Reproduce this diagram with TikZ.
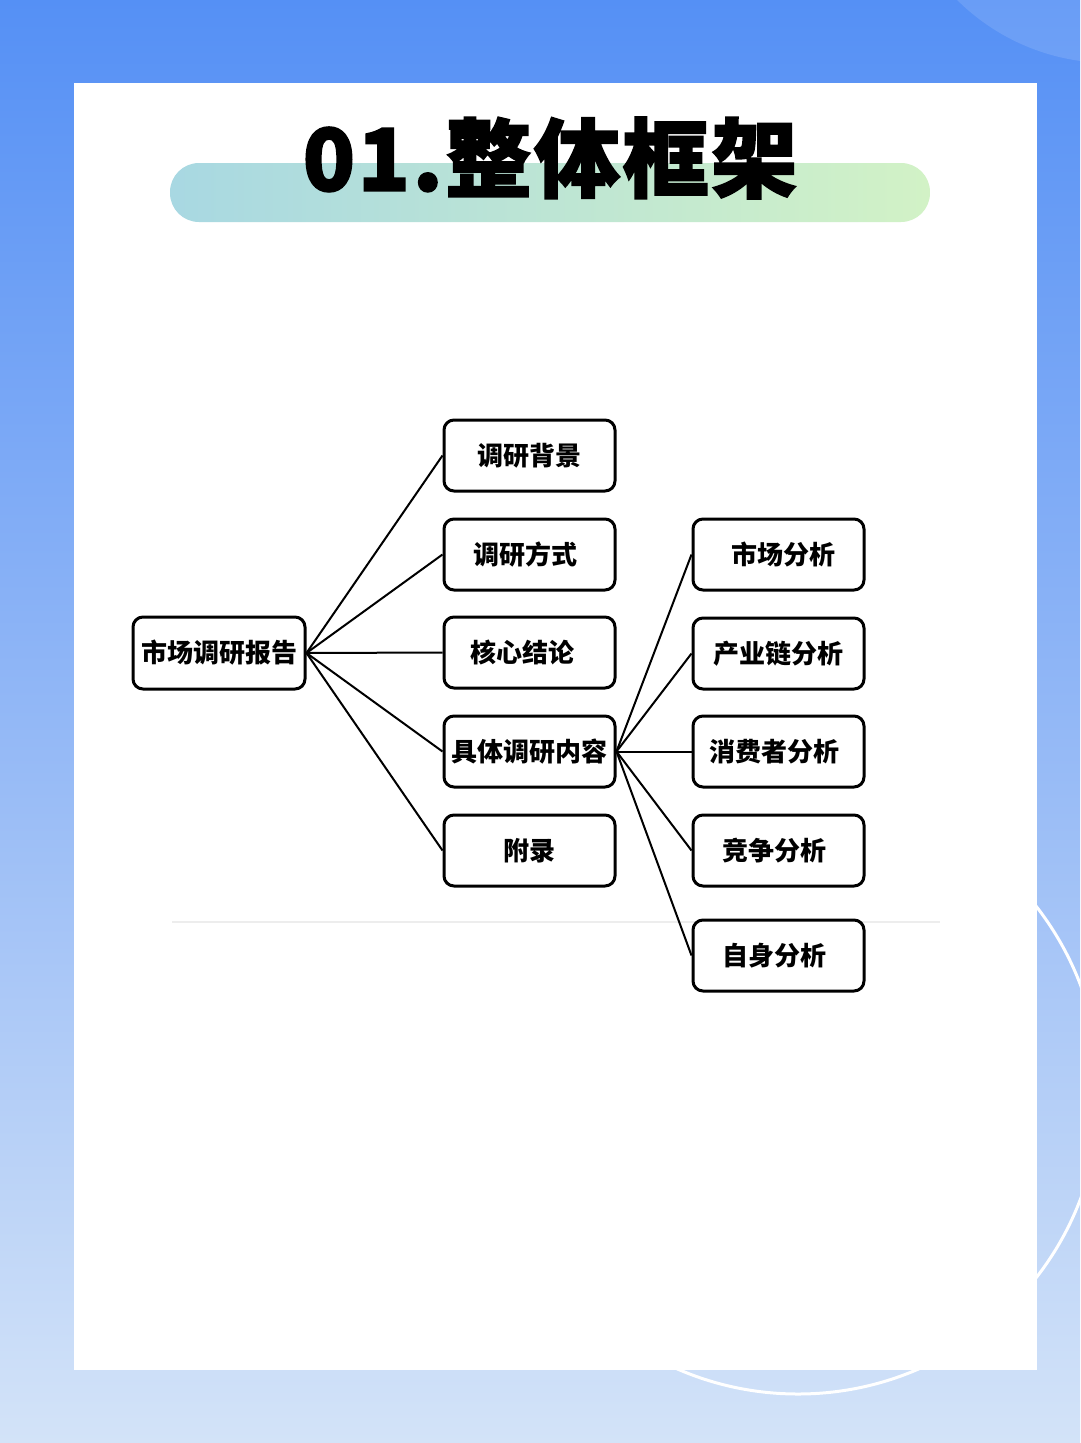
\documentclass[tikz,border=0pt]{standalone}
\usepackage{fontspec}
\newfontfamily\cjk{Noto Sans CJK SC}
\newfontfamily\titlecjk{Noto Sans CJK SC}[BoldFeatures={FakeBold=2}, LetterSpace=3]
\definecolor{bgtop}{HTML}{5590F5}
\definecolor{bgmid}{HTML}{93B8F6}
\definecolor{bgbot}{HTML}{D3E3F8}
\definecolor{pillL}{HTML}{A8D8E2}
\definecolor{pillR}{HTML}{D2F2C6}
\definecolor{sepgray}{HTML}{EDEDED}
\tikzset{
  box/.style={draw=black, line width=3pt, rounded corners=10pt, fill=white,
    minimum width=171pt, minimum height=71pt, inner sep=0pt,
    font=\cjk\bfseries\fontsize{26}{30}\selectfont},
  rootbox/.style={box, minimum width=172pt, minimum height=72pt},
  link/.style={draw=black, line width=2pt}
}
\begin{document}
\begin{tikzpicture}[x=1pt,y=-1pt]
\useasboundingbox (0,0) rectangle (1080,1443);
% background
\shade[top color=bgtop, bottom color=bgbot, middle color=bgmid] (0,0) rectangle (1080,1443);
\begin{scope}
\clip (0,0) rectangle (1080,1443);
\fill[white, opacity=0.12] (1110,-154) circle[radius=217];
\draw[white, line width=3pt] (798,1092) circle[radius=302];
\end{scope}
% card
\fill[white] (74,83) rectangle (1037,1370);
% title pill
\shade[left color=pillL, right color=pillR, rounded corners=29pt] (170,163) rectangle (930,222);
\node[font=\titlecjk\bfseries\fontsize{86}{96}\selectfont, inner sep=0pt] (title) at (550,158) {01.整体框架};
% separator
\draw[sepgray, line width=2pt] (172,922) -- (940,922);
% nodes
\node[rootbox] (root) at (219,653) {\raisebox{-2pt}{市场调研报告}};
\node[box] (a1) at (529.5,455.5) {\raisebox{-2pt}{调研背景}};
\node[box] (a2) at (529.5,554.5) {\hspace*{-8pt}\raisebox{-2pt}{调研方式}};
\node[box] (a3) at (529.5,652.5) {\hspace*{-14pt}\raisebox{-2pt}{核心结论}};
\node[box] (a4) at (529.5,751.5) {\raisebox{-2pt}{具体调研内容}};
\node[box] (a5) at (529.5,850.5) {\raisebox{-2pt}{附录}};
\node[box] (b1) at (778.5,554.5) {\hspace*{10pt}\raisebox{-2pt}{市场分析}};
\node[box] (b2) at (778.5,653.5) {\raisebox{-3pt}{产业链分析}};
\node[box] (b3) at (778.5,751.5) {\hspace*{-8pt}\raisebox{-2pt}{消费者分析}};
\node[box] (b4) at (778.5,850.5) {\hspace*{-8pt}\raisebox{-4pt}{竞争分析}};
\node[box] (b5) at (778.5,955.5) {\hspace*{-8pt}\raisebox{-2pt}{自身分析}};
% connectors
\foreach \t in {a1,a2,a3,a4,a5} \draw[link] (root.east) -- (\t.west);
\foreach \t in {b1,b2,b3,b4,b5} \draw[link] (a4.east) -- (\t.west);
\end{tikzpicture}
\end{document}
